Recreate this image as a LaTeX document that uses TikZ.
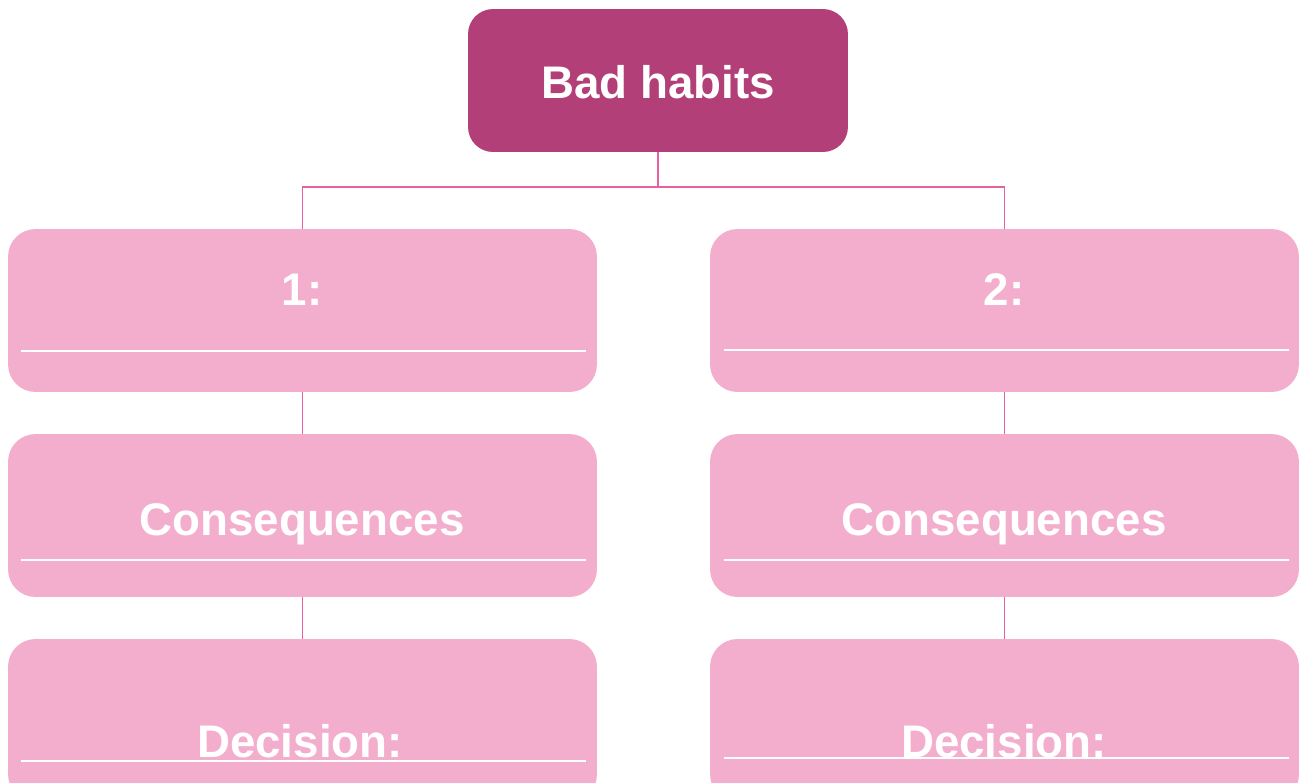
\documentclass[tikz,border=0pt]{standalone}
\usepackage{fontspec}
\setmainfont{Liberation Sans}
\usepackage{tikz}

\definecolor{plum}{HTML}{B23F77}
\definecolor{softpink}{HTML}{F3AECD}
\definecolor{linkpink}{HTML}{E8609E}

\tikzset{
  topbox/.style={draw=none,fill=plum,rounded corners=0.5cm,minimum width=7.6cm,minimum height=2.86cm,inner sep=0pt},
  habitbox/.style={draw=none,fill=softpink,rounded corners=0.55cm,minimum width=11.78cm,minimum height=3.26cm,inner sep=0pt},
  boxtext/.style={text=white,font=\fontsize{26}{30}\selectfont\bfseries,anchor=base,inner sep=0pt},
  link/.style={draw=linkpink,line width=1.1pt},
  rule/.style={draw=white,line width=1.2pt}
}

\begin{document}
\begin{tikzpicture}[x=0.02cm,y=-0.02cm]
	\useasboundingbox (0,0) rectangle (1299,782);
	\clip (0,0) rectangle (1299,782);

	% top of the tree
	\node[topbox] (bad) at (658,80.5) {};
	\node[boxtext] (badt) at (658,98) {Bad habits};

	% left column
	\node[habitbox] (h1) at (302.5,310.5) {};
	\node[habitbox] (c1) at (302.5,515.5) {};
	\node[habitbox] (d1) at (302.5,720.5) {};
	\node[boxtext] (h1t) at (302,305) {1:};
	\node[boxtext] (c1t) at (302,535) {Consequences};
	\node[boxtext] (d1t) at (300,757) {Decision:};
	\draw[rule] (21,351) -- (586,351);
	\draw[rule] (21,560) -- (586,560);
	\draw[rule] (21,761) -- (586,761);

	% right column
	\node[habitbox] (h2) at (1004.5,310.5) {};
	\node[habitbox] (c2) at (1004.5,515.5) {};
	\node[habitbox] (d2) at (1004.5,720.5) {};
	\node[boxtext] (h2t) at (1004,305) {2:};
	\node[boxtext] (c2t) at (1004,535) {Consequences};
	\node[boxtext] (d2t) at (1004,757) {Decision:};
	\draw[rule] (724,350) -- (1289,350);
	\draw[rule] (724,560) -- (1289,560);
	\draw[rule] (724,758) -- (1289,758);

	% connectors
	\draw[link] (bad.south) -- ++(0,35) -| (h1.north);
	\draw[link] (bad.south) -- ++(0,35) -| (h2.north);
	\draw[link] (h1.south) -- (c1.north);
	\draw[link] (c1.south) -- (d1.north);
	\draw[link] (h2.south) -- (c2.north);
	\draw[link] (c2.south) -- (d2.north);
\end{tikzpicture}
\end{document}
